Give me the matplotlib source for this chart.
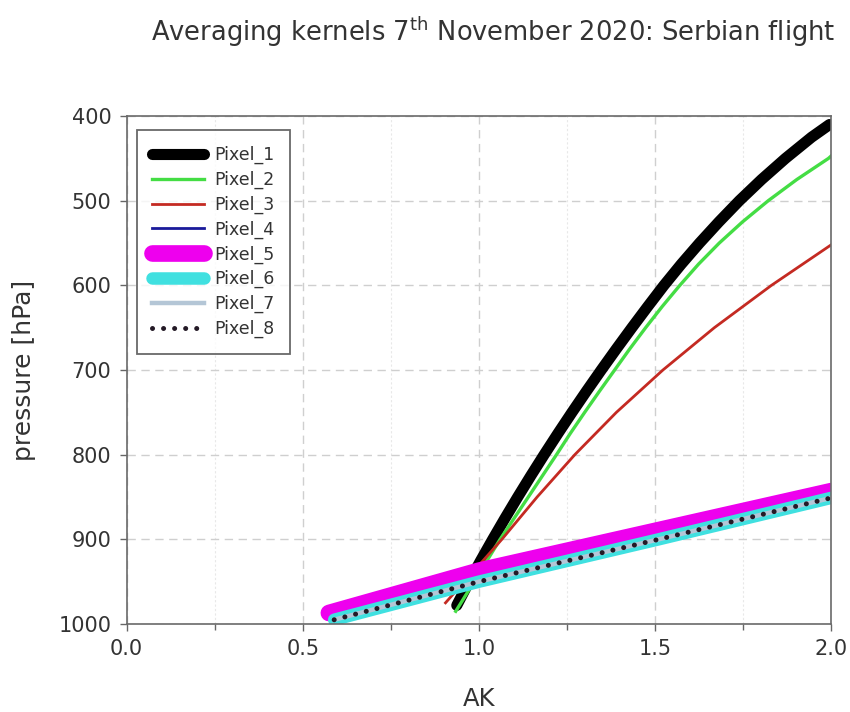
import numpy as np
import matplotlib
matplotlib.use("Agg")
import matplotlib.pyplot as plt
from matplotlib.ticker import MultipleLocator

plt.rcParams['font.family'] = ['DejaVu Sans']

# averaging kernel values (AK vs pressure in hPa)
p1 = [978, 950, 925, 900, 875, 850, 825, 800, 775, 750, 725, 700, 675, 650,
      625, 600, 575, 550, 525, 500, 475, 450, 425, 410]
ak1 = [0.937, 0.972, 1.005, 1.039, 1.074, 1.110, 1.147, 1.185, 1.224, 1.264, 1.305,
       1.347, 1.390, 1.434, 1.479, 1.525, 1.574, 1.626, 1.681, 1.739, 1.802, 1.870,
       1.944, 1.995]

p2 = [985, 975, 950, 925, 900, 875, 850, 825, 800, 775, 750, 725, 700, 675, 650,
      625, 600, 575, 550, 525, 500, 475, 450, 447]
ak2 = [0.934, 0.949, 0.986, 1.023, 1.060, 1.100, 1.140, 1.180, 1.220, 1.259, 1.300,
       1.342, 1.385, 1.428, 1.473, 1.520, 1.570, 1.623, 1.682, 1.748, 1.821, 1.902,
       1.992, 2.0]

p3 = [975, 950, 925, 900, 850, 800, 750, 700, 650, 600, 552]
ak3 = [0.905, 0.958, 1.012, 1.065, 1.165, 1.272, 1.39, 1.522, 1.668, 1.83, 2.0]

ak4 = [0.589, 1.0, 1.5, 2.0]
p4 = [998, 953, 904, 854]

ak5 = [0.574, 1.0, 1.5, 2.0]
p5 = [987, 937, 890, 843]

ak6 = [0.589, 1.0, 1.5, 2.0]
p6 = [995, 950, 901, 851]

ak7 = [0.589, 1.0, 1.5, 2.0]
p7 = [995, 950, 901, 851]

ak8 = [0.589, 1.0, 1.5, 2.0]
p8 = [995, 950, 901, 851]

fig = plt.figure(figsize=(8.5, 7.12), dpi=100)
ax = fig.add_axes([0.149, 0.1236, 0.829, 0.7134])

ax.plot(ak1, p1, color='black', lw=8, solid_capstyle='round', label='Pixel_1')
ax.plot(ak2, p2, color='#44dd44', lw=2.4, label='Pixel_2')
ax.plot(ak3, p3, color='#c42a22', lw=2.0, label='Pixel_3')
ax.plot(ak4, p4, color='#1a1a9a', lw=2.0, label='Pixel_4')
ax.plot(ak5, p5, color='#ee00ee', lw=12, solid_capstyle='round', label='Pixel_5')
ax.plot(ak6, p6, color='#40e0e0', lw=9, solid_capstyle='round', label='Pixel_6')
ax.plot(ak7, p7, color='#b4c6d6', lw=3.2, label='Pixel_7')
ax.plot(ak8, p8, color='#241a26', lw=3.6, linestyle=(0, (0.01, 2.2)),
        dash_capstyle='round', label='Pixel_8')

ax.set_xlim(0.0, 2.0)
ax.set_ylim(1000, 400)
ax.xaxis.set_major_locator(MultipleLocator(0.5))
ax.xaxis.set_minor_locator(MultipleLocator(0.25))
ax.yaxis.set_major_locator(MultipleLocator(100))

ax.grid(which='major', color='#cfcfcf', linestyle=(0, (6, 4)), lw=1.0)
ax.grid(which='minor', axis='x', color='#e8e8e8', linestyle=(0, (2, 2)), lw=0.8)
ax.set_axisbelow(True)

for s in ax.spines.values():
    s.set_color('#6a6a6a')
    s.set_linewidth(1.2)
ax.tick_params(which='both', direction='out', color='#666666', labelcolor='#333333',
               labelsize=15, length=5, width=1.0, pad=6)
ax.tick_params(which='minor', length=4)

ax.set_xlabel('AK', fontsize=17.5, color='#333333', labelpad=20)
ax.set_ylabel('pressure [hPa]', fontsize=18, color='#333333', labelpad=16)
fig.text(0.58, 0.955, 'Averaging kernels 7$^{\\mathrm{th}}$ November 2020: Serbian flight',
         ha='center', va='center', fontsize=18.5, color='#333333')

leg = ax.legend(loc='upper left', bbox_to_anchor=(0.014, 0.972), borderaxespad=0,
                fontsize=12.5, frameon=True, fancybox=False, handlelength=3.0,
                handletextpad=0.55, labelspacing=0.38, borderpad=0.9)
leg.get_frame().set_edgecolor('#444444')
leg.get_frame().set_linewidth(1.3)
for t in leg.get_texts():
    t.set_color('#333333')

fig.savefig('out.png', dpi=100)
